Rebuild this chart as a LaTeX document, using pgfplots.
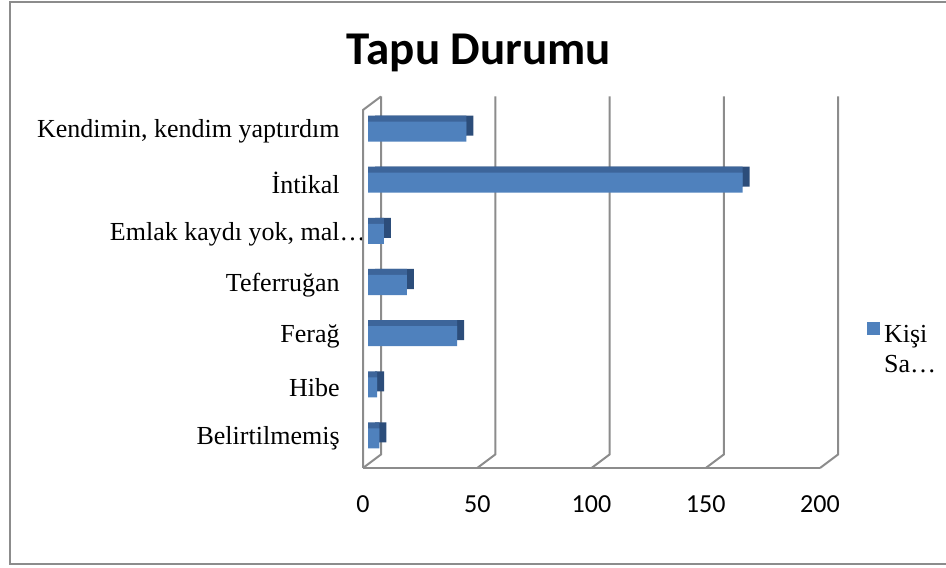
\documentclass[border=0pt]{standalone}
\usepackage{fontspec}
\setmainfont{Liberation Serif}
\newfontfamily\carlito{Carlito}
\usepackage{pgfplots}
\usepackage{pgfplotstable}
\pgfplotsset{compat=1.18}
\definecolor{barfront}{HTML}{4F81BD}
\definecolor{bartop}{HTML}{3D659A}
\definecolor{barside}{HTML}{2C4D7A}
\definecolor{framegray}{HTML}{8C8C8C}

\pgfplotstableread{
idx val
0 5
1 4
2 39
3 17
4 7
5 164
6 43
}\datatable

\begin{document}
\begin{tikzpicture}
\useasboundingbox (0,0) rectangle (473pt,283.5pt);
\draw[framegray, line width=1pt] (480pt,1.5pt) -- (5pt,1.5pt) -- (5pt,282.5pt) -- (480pt,282.5pt);
\node[font=\carlito\bfseries\fontsize{23.5}{28}\selectfont, anchor=base, inner sep=0pt] at (239.5pt,251pt) {Tapu Durumu};
\begin{axis}[
  at={(184pt,51.5pt)}, anchor=south west, scale only axis,
  width=228.5pt, height=179pt,
  xmin=0, xmax=200, ymin=-0.5, ymax=6.5,
  xtick={0,50,...,200}, ytick={0,...,6},
  /pgf/number format/assume math mode=true,
  yticklabels={Belirtilmemiş,Hibe,Ferağ,Teferruğan,{Emlak kaydı yok, mal\rlap{…}},İntikal,{Kendimin, kendim yaptırdım}},
  axis line style={draw=none}, tick style={draw=none},
  xticklabel style={font=\carlito\fontsize{13}{15}\selectfont, anchor=north, inner sep=0pt, yshift=-15.5pt, xshift=-2.5pt},
  yticklabel style={font=\fontsize{13}{15}\selectfont, anchor=east, inner sep=0pt, xshift=-14pt},
  clip=false,
  bar width=10pt,
  legend style={at={(1.092,0.399)}, anchor=north west, draw=none, fill=none, inner sep=0pt, outer sep=0pt,
    font=\fontsize{13}{15}\selectfont, /tikz/every even column/.append style={column sep=4.5pt}},
]
\draw[framegray, line width=1pt] (axis cs:0,-0.5) ++(-2.5pt,-2pt) -- ++(228.5pt,0pt);
\draw[framegray, line width=1pt] (axis cs:0,-0.5) ++(-2.5pt,-2pt) -- ++(0pt,179pt) -- ++(9pt,6.75pt);
\pgfplotsinvokeforeach{0,50,100,150,200}{
  \draw[framegray, line width=1pt] (axis cs:#1,-0.5) ++(-2.5pt,-2pt) -- ++(9pt,6.75pt) -- ++(0pt,179pt);
}
\addplot[xbar, bar shift=0pt, fill=barside, draw=none, xshift=3.5pt, yshift=3pt, forget plot] table[x=val,y=idx]{\datatable};
\addplot[xbar, bar shift=0pt, fill=bartop, draw=none, yshift=3pt, forget plot] table[x=val,y=idx]{\datatable};
\addplot[xbar, bar shift=0pt, fill=barfront, draw=none,
  legend image code/.code={\fill[barfront] (0pt,0pt) rectangle (6.5pt,6.5pt);}] table[x=val,y=idx]{\datatable};
\addlegendentry{\parbox[t]{40pt}{Kişi\\Sa…}}
\end{axis}
\end{tikzpicture}
\end{document}
